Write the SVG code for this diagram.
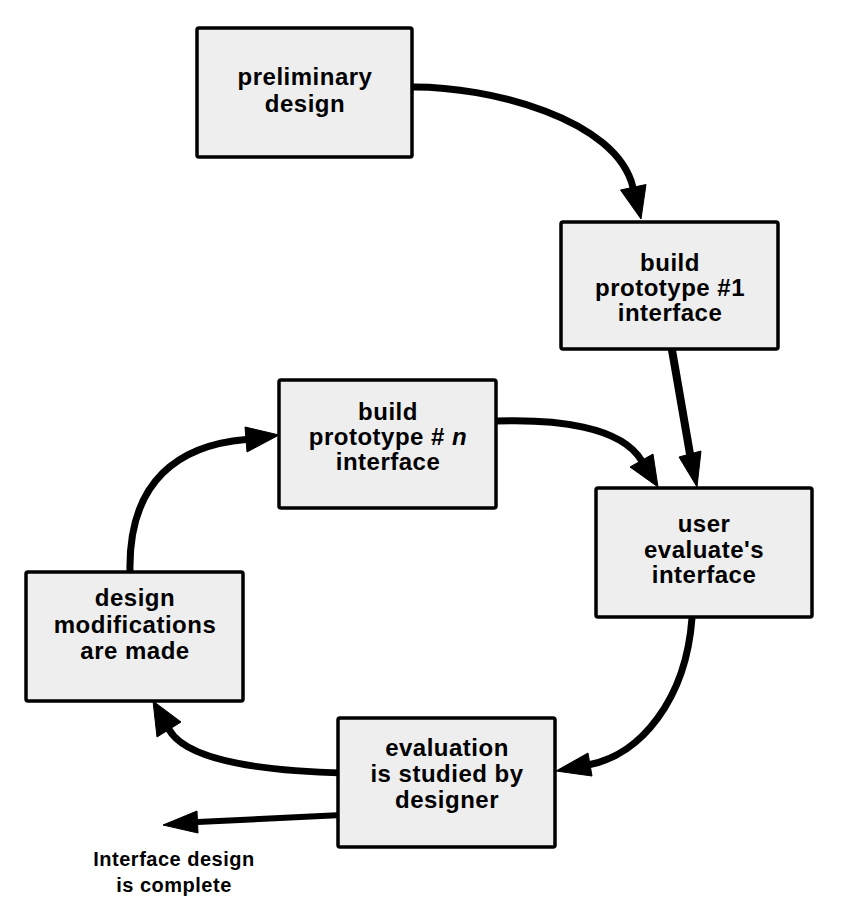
<svg xmlns="http://www.w3.org/2000/svg" width="842" height="924" viewBox="0 0 842 924">
<style>
.box{fill:#eeeeee;stroke:#000;stroke-width:3.5}
.t{font-family:"Liberation Sans",Arial,sans-serif;font-weight:bold;font-size:24px;letter-spacing:0.5px;text-anchor:middle;fill:#000}
.s{font-family:"Liberation Sans",Arial,sans-serif;font-weight:bold;font-size:20px;letter-spacing:0.5px;text-anchor:middle;fill:#000}
.c{fill:none;stroke:#000;stroke-width:7;stroke-linecap:round}
.h{fill:#000;stroke:#000;stroke-width:1;stroke-linejoin:miter}
</style>
<rect width="842" height="924" fill="#fff"/>
<g id="connectors">
<path class="c" d="M410,87 C490,86 617,119 633,187.5"/>
<polygon class="h" points="641,219 620.5,190 646,184.5"/>
<path class="c" style="stroke-width:8" d="M672,350 L690,454"/>
<polygon class="h" points="697,487 679,457 701,451"/>
<path class="c" d="M497,421 C555,419 621,426 641.5,460.5"/>
<polygon class="h" points="658,487 630,467 653,454"/>
<path class="c" d="M692,618 C686,700 640,755 590,764.5"/>
<polygon class="h" points="556,771 588,753 592,776"/>
<path class="c" d="M345,773 C260,771 186,760 169,729.5"/>
<polygon class="h" points="153,701 181,722 157,737"/>
<path class="c" style="stroke-width:6" d="M342,815 L197.5,822"/>
<polygon class="h" points="163,825 197,811 198,833"/>
<path class="c" d="M130,572 C128,480 180,445 246,439.5"/>
<polygon class="h" points="279,435 245,427 247,452"/>
</g>
<g id="n1">
<rect class="box" x="197" y="28" width="215" height="129" rx="2"/>
<text class="t" x="305" y="85">preliminary</text>
<text class="t" x="305" y="112">design</text>
</g>
<g id="n2">
<rect class="box" x="561" y="222" width="217" height="127" rx="2"/>
<text class="t" x="670" y="271">build</text>
<text class="t" x="670" y="296">prototype #1</text>
<text class="t" x="670" y="321">interface</text>
</g>
<g id="n3">
<rect class="box" x="279" y="380" width="217" height="128" rx="2"/>
<text class="t" x="388" y="420">build</text>
<text class="t" x="388" y="445">prototype # <tspan font-style="italic">n</tspan></text>
<text class="t" x="388" y="470">interface</text>
</g>
<g id="n4">
<rect class="box" x="596" y="488" width="216" height="129" rx="2"/>
<text class="t" x="704" y="532">user</text>
<text class="t" x="704" y="558">evaluate's</text>
<text class="t" x="704" y="583">interface</text>
</g>
<g id="n5">
<rect class="box" x="26" y="572" width="217" height="129" rx="2"/>
<text class="t" x="135" y="606">design</text>
<text class="t" x="135" y="633">modifications</text>
<text class="t" x="135" y="659">are made</text>
</g>
<g id="n6">
<rect class="box" x="338" y="718" width="217" height="129" rx="2"/>
<text class="t" x="447" y="756">evaluation</text>
<text class="t" x="447" y="782">is studied by</text>
<text class="t" x="447" y="808">designer</text>
</g>
<g id="end-label">
<text class="s" x="174" y="866">Interface design</text>
<text class="s" x="174" y="892">is complete</text>
</g>
</svg>
